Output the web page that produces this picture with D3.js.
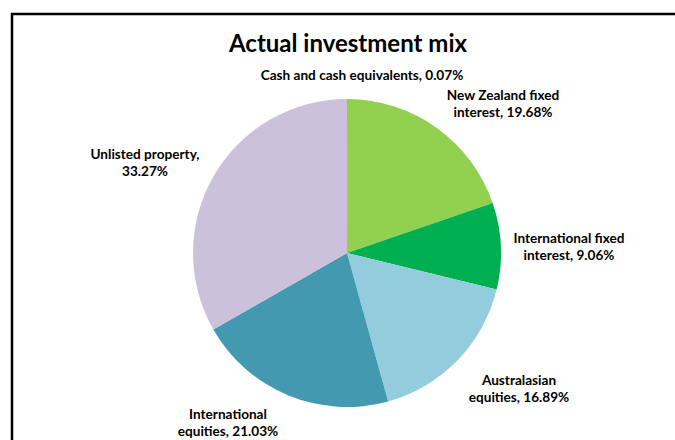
<!DOCTYPE html>
<html><head><meta charset="utf-8">
<script src="https://cdn.jsdelivr.net/npm/d3@7"></script>
<style>body{margin:0;background:#fff;}svg{display:block;}</style>
</head><body>
<svg id="c" width="675" height="440"></svg>
<script>
const categories = ["Cash and cash equivalents","New Zealand fixed interest","International fixed interest","Australasian equities","International equities","Unlisted property"];
const values = [0.07, 19.68, 9.06, 16.89, 21.03, 33.27];
const labelLines = [
  ["Cash and cash equivalents, 0.07%"],
  ["New Zealand fixed","interest, 19.68%"],
  ["International fixed","interest, 9.06%"],
  ["Australasian","equities, 16.89%"],
  ["International","equities, 21.03%"],
  ["Unlisted property,","33.27%"]
];
const colors = ["#4F81BD","#92D050","#00B050","#93CDDD","#4399B0","#CCC1DA"];
const labelPos = [[362,80],[503,100],[569,243],[519,385],[228,419],[145,159]];

const svg = d3.select("#c");
const font = "Lato, 'Open Sans', sans-serif";
svg.append("path").attr("d","M12,700 V14 H700").attr("fill","none").attr("stroke","#000").attr("stroke-width",2.5);
svg.append("text").attr("x",348).attr("y",52).attr("text-anchor","middle")
  .attr("font-family",font).attr("font-weight","bold").attr("font-size",24).attr("fill","#000")
  .text("Actual investment mix");

const cx = 347, cy = 253, r = 154;
const pie = d3.pie().sort(null).value(d=>d)(values);
const arc = d3.arc().innerRadius(0).outerRadius(r);
const g = svg.append("g").attr("transform",`translate(${cx},${cy})`);
g.selectAll("path").data(pie).join("path").attr("d",arc).attr("fill",(d,i)=>colors[i]);

const lg = svg.append("g").attr("font-family",font).attr("font-weight","bold").attr("font-size",13.6).attr("fill","#000");
labelLines.forEach((lines,i)=>{
  const t = lg.append("text").attr("text-anchor","middle").attr("x",labelPos[i][0]).attr("y",labelPos[i][1]);
  lines.forEach((l,j)=>t.append("tspan").attr("x",labelPos[i][0]).attr("dy", j===0?0:17).text(l));
});
</script>
</body></html>
